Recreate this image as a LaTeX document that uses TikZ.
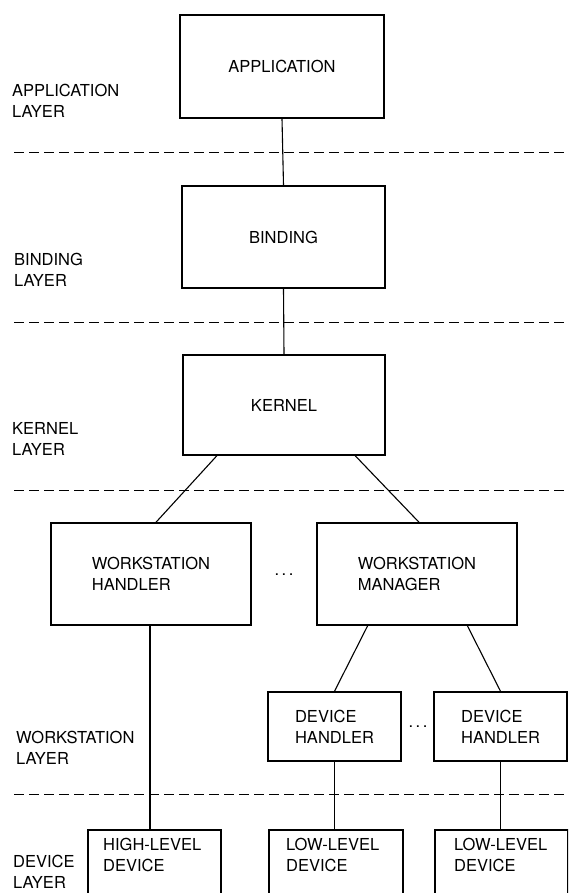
\documentclass[tikz,border=0pt]{standalone}
\usepackage{fontspec}
\setmainfont{TeX Gyre Heros}
\usetikzlibrary{calc}

\begin{document}
\begin{tikzpicture}[
                x=1pt, y=-1pt,
                every node/.style={font=\fontsize{16.5}{21}\selectfont, inner sep=0pt},
                layerbox/.style={draw, line width=1.5pt, align=left},
                layertext/.style={anchor=west, align=left},
                layerline/.style={line width=0.9pt, dash pattern=on 10pt off 5pt},
                link/.style={line width=1.1pt},
              ]
              \useasboundingbox (0,0) rectangle (568,893);
              \clip (0,0) rectangle (568,893);
              % boxes
              \node[layerbox, minimum width=204pt, minimum height=103pt] (app) at (282,66.5) {APPLICATION};
              \node[layerbox, minimum width=203pt, minimum height=102pt] (bind) at (283.5,237) {BINDING};
              \node[layerbox, minimum width=202pt, minimum height=100pt] (kern) at (284,405) {KERNEL};
              \node[layerbox, minimum width=200pt, minimum height=102pt] (wsh) at (151,574) {WORKSTATION\\HANDLER};
              \node[layerbox, minimum width=200pt, minimum height=102pt] (wsm) at (417,574) {WORKSTATION\\MANAGER};
              \node[layerbox, minimum width=133pt, minimum height=69pt] (dh1) at (334.5,726.5) {DEVICE\\HANDLER};
              \node[layerbox, minimum width=133pt, minimum height=69pt] (dh2) at (500.5,726.5) {DEVICE\\HANDLER};
              \node[layerbox, anchor=north west, minimum width=133pt, minimum height=100pt] (hld) at (87,829) {};
              \node[layerbox, anchor=north west, minimum width=134pt, minimum height=100pt] (lld1) at (268,829) {};
              \node[layerbox, anchor=north west, minimum width=133pt, minimum height=100pt] (lld2) at (434,829) {};
              \node[anchor=north west, align=left] (hltxt) at ([xshift=16pt, yshift=-9pt]hld.north west) {HIGH-LEVEL\\DEVICE};
              \node[anchor=north west, align=left] (ll1txt) at ([xshift=18pt, yshift=-9pt]lld1.north west) {LOW-LEVEL\\DEVICE};
              \node[anchor=north west, align=left] (ll2txt) at ([xshift=20pt, yshift=-9pt]lld2.north west) {LOW-LEVEL\\DEVICE};
              \node (dots1) at (284,575) {.\kern2.5pt.\kern2.5pt.};
              \node (dots2) at (418,727) {.\kern2.5pt.\kern2.5pt.};
              % layer names
              \node[layertext] (applay) at (12,101) {APPLICATION\\LAYER};
              \node[layertext] (bindlay) at (14,269.5) {BINDING\\LAYER};
              \node[layertext] (kernlay) at (12,439) {KERNEL\\LAYER};
              \node[layertext] (wslay) at (16,748) {WORKSTATION\\LAYER};
              \node[layertext] (devlay) at (13,872) {DEVICE\\LAYER};
              % layer borders
              \foreach \y in {152,322,490,794}
                \draw[layerline] (14,\y) -- (568,\y);
              % connections
              \draw[link] (app.south) -- (bind.north);
              \draw[link] (bind.south) -- (kern.north);
              \draw[link] ($(kern.south west)!0.17!(kern.south east)$) -- ([xshift=5pt]wsh.north);
              \draw[link] ($(kern.south west)!0.85!(kern.south east)$) -- ([xshift=2pt]wsm.north);
              \draw[link] ($(wsm.south west)!0.255!(wsm.south east)$) -- (dh1.north);
              \draw[link] ($(wsm.south west)!0.75!(wsm.south east)$) -- (dh2.north);
              \draw[link] ([xshift=-1pt]wsh.south) -- ([xshift=-1pt]wsh.south |- hld.north);
              \draw[link] (dh1.south) -- (dh1.south |- lld1.north);
              \draw[link] (dh2.south) -- (dh2.south |- lld2.north);
              \end{tikzpicture}
\end{document}
